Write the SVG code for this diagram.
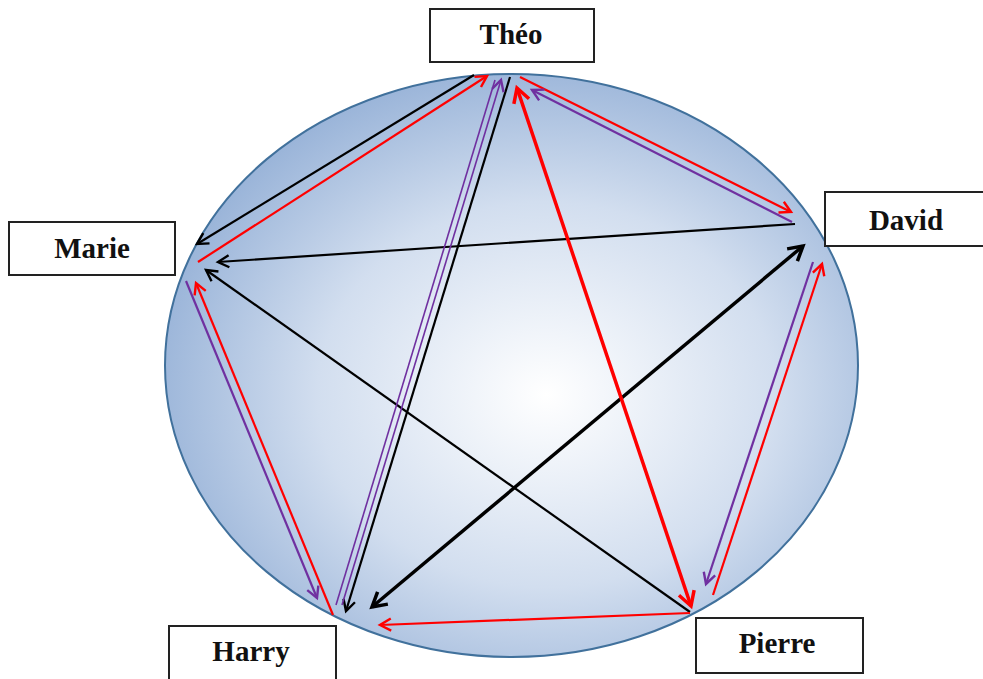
<svg xmlns="http://www.w3.org/2000/svg" width="983" height="679" viewBox="0 0 983 679">
<style>
.box{fill:#fff;stroke:#222;stroke-width:2}
.lbl{font-family:"Liberation Serif","Times New Roman",serif;font-weight:bold;font-size:29px;fill:#111;text-anchor:middle}
.k{stroke:#000;stroke-width:2.2;fill:none}
.kt{stroke:#000;stroke-width:3.5;fill:none}
.r{stroke:#ff0000;stroke-width:2.2;fill:none}
.rt{stroke:#ff0000;stroke-width:3.5;fill:none}
.p{stroke:#7030a0;stroke-width:2.2;fill:none}
.p1{stroke:#7030a0;stroke-width:1.6;fill:none}
</style>
<defs>
<radialGradient id="bg" cx="0.55" cy="0.55" r="0.6">
<stop offset="0" stop-color="#ffffff"/>
<stop offset="0.55" stop-color="#d2deef"/>
<stop offset="1" stop-color="#93afd6"/>
</radialGradient>
<marker id="mk" markerUnits="userSpaceOnUse" refX="0" refY="0" markerWidth="20" markerHeight="20" orient="auto-start-reverse" overflow="visible"><path d="M-11,-6 L0,0 L-11,6" fill="none" stroke="#000" stroke-width="2.4"/></marker>
<marker id="mkt" markerUnits="userSpaceOnUse" refX="0" refY="0" markerWidth="20" markerHeight="20" orient="auto-start-reverse" overflow="visible"><path d="M-14,-8 L0,0 L-14,8" fill="none" stroke="#000" stroke-width="3.5"/></marker>
<marker id="mr" markerUnits="userSpaceOnUse" refX="0" refY="0" markerWidth="20" markerHeight="20" orient="auto-start-reverse" overflow="visible"><path d="M-11,-6 L0,0 L-11,6" fill="none" stroke="#ff0000" stroke-width="2.4"/></marker>
<marker id="mrt" markerUnits="userSpaceOnUse" refX="0" refY="0" markerWidth="20" markerHeight="20" orient="auto-start-reverse" overflow="visible"><path d="M-14,-8 L0,0 L-14,8" fill="none" stroke="#ff0000" stroke-width="3.5"/></marker>
<marker id="mp" markerUnits="userSpaceOnUse" refX="0" refY="0" markerWidth="20" markerHeight="20" orient="auto-start-reverse" overflow="visible"><path d="M-11,-6 L0,0 L-11,6" fill="none" stroke="#7030a0" stroke-width="2.4"/></marker>
</defs>
<ellipse id="circle" cx="511.5" cy="365.5" rx="346.5" ry="291.5" fill="url(#bg)" stroke="#41719c" stroke-width="2"/>
<g id="connectors">
<line class="k" x1="474" y1="75" x2="197" y2="244" marker-end="url(#mk)"/>
<line class="k" x1="795" y1="224" x2="218" y2="262" marker-end="url(#mk)"/>
<line class="k" x1="690" y1="612" x2="206" y2="270" marker-end="url(#mk)"/>
<line class="k" x1="510" y1="77" x2="346" y2="611" marker-end="url(#mk)"/>
<line class="kt" x1="372" y1="607" x2="803" y2="246" marker-start="url(#mkt)" marker-end="url(#mkt)"/>
<line class="r" x1="198" y1="262" x2="487" y2="76" marker-end="url(#mr)"/>
<line class="r" x1="520" y1="77" x2="791" y2="212" marker-end="url(#mr)"/>
<line class="r" x1="690" y1="613" x2="380" y2="625" marker-end="url(#mr)"/>
<line class="r" x1="333" y1="615" x2="196" y2="283" marker-end="url(#mr)"/>
<line class="r" x1="713" y1="595" x2="822" y2="264" marker-end="url(#mr)"/>
<line class="rt" x1="517" y1="88" x2="691" y2="606" marker-start="url(#mrt)" marker-end="url(#mrt)"/>
<line class="p" x1="792" y1="222" x2="532" y2="90" marker-end="url(#mp)"/>
<line class="p" x1="186" y1="281" x2="317" y2="598" marker-end="url(#mp)"/>
<line class="p" x1="813" y1="262" x2="706" y2="584" marker-end="url(#mp)"/>
<line class="p1" x1="336" y1="605" x2="495" y2="80"/>
<line class="p1" x1="342" y1="605" x2="501" y2="80" marker-end="url(#mp)"/>
</g>
<g id="theo"><rect class="box" x="430" y="9" width="164" height="53"/><text class="lbl" x="511" y="44">Théo</text></g>
<g id="marie"><rect class="box" x="9" y="222" width="166" height="53"/><text class="lbl" x="92" y="258">Marie</text></g>
<g id="david"><rect class="box" x="825" y="192" width="166" height="54"/><text class="lbl" x="906" y="230">David</text></g>
<g id="harry"><rect class="box" x="169" y="626" width="167" height="60"/><text class="lbl" x="251" y="661">Harry</text></g>
<g id="pierre"><rect class="box" x="696" y="618" width="167" height="55"/><text class="lbl" x="777" y="653">Pierre</text></g>
</svg>
